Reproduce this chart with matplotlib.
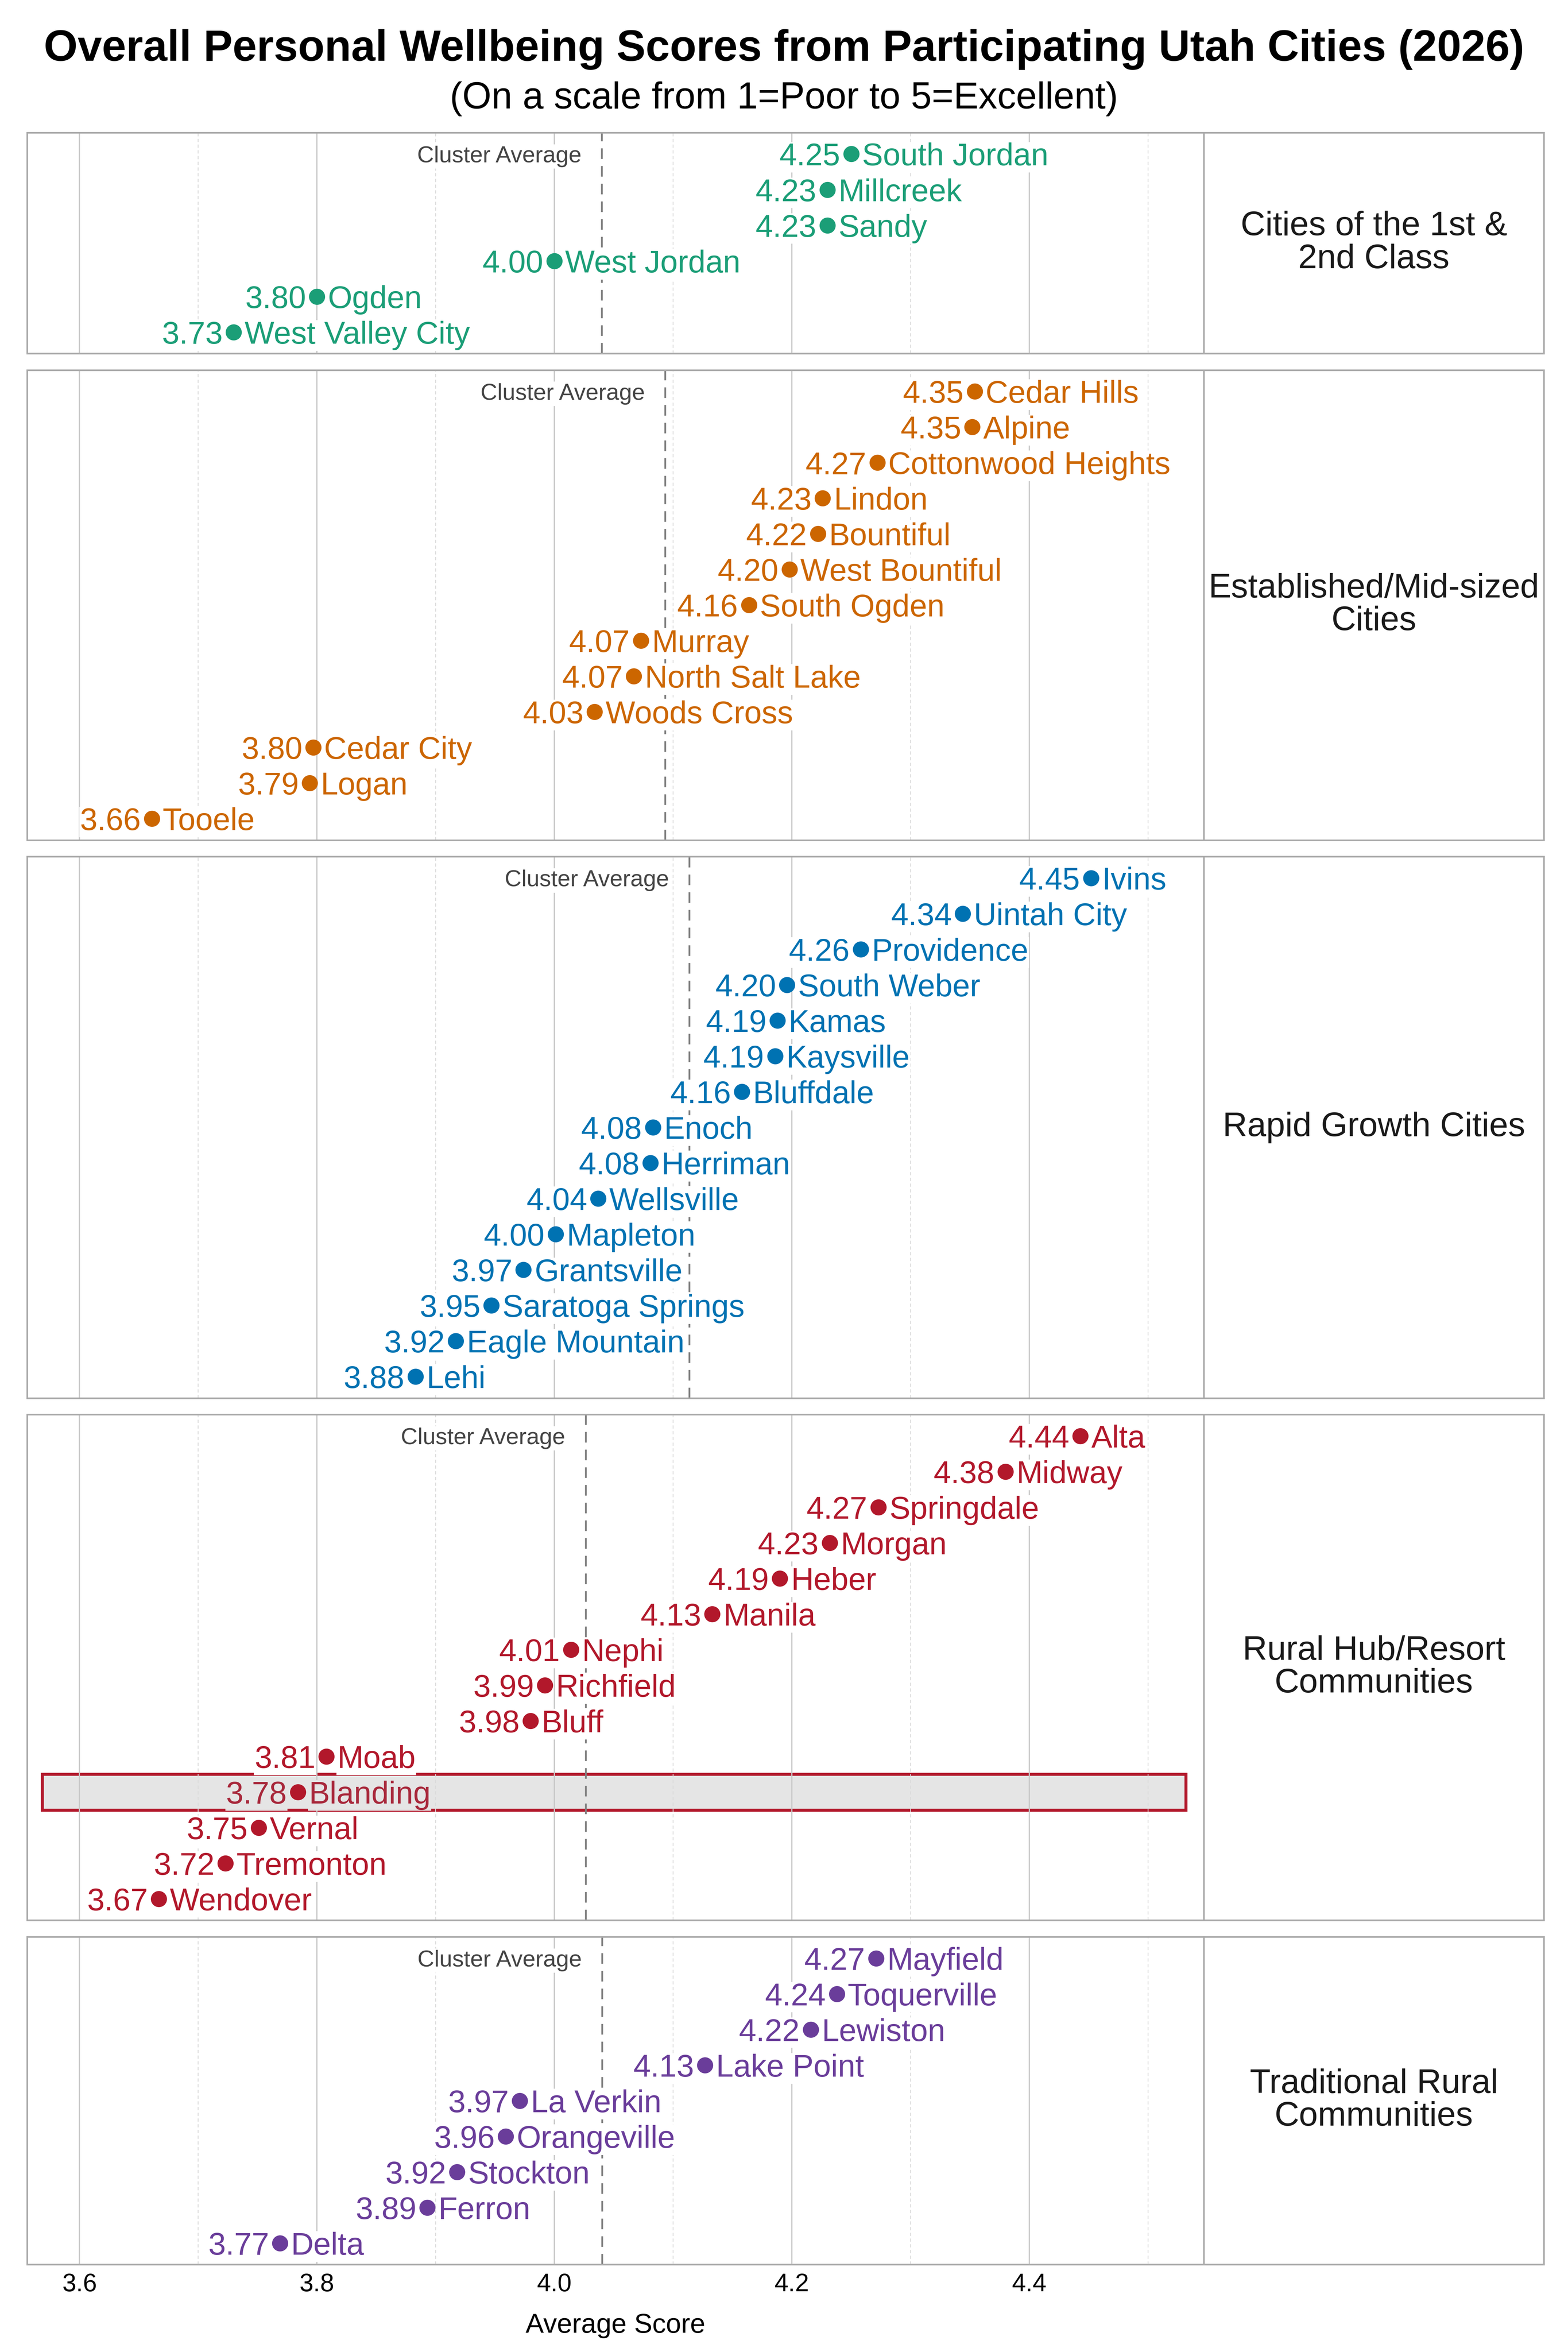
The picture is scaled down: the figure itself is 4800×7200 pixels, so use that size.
import numpy as np
import matplotlib.pyplot as plt
import matplotlib.transforms as mtransforms
from matplotlib.patches import Rectangle

plt.rcParams['font.family'] = ['Liberation Sans', 'DejaVu Sans']

# data
strip_labels = ["Cities of the 1st &\n2nd Class", "Established/Mid-sized\nCities",
                "Rapid Growth Cities", "Rural Hub/Resort\nCommunities",
                "Traditional Rural\nCommunities"]
colors = ["#1b9e77", "#cc6600", "#0072b2", "#b2182b", "#6a3d9a"]

cities_1 = ["South Jordan", "Millcreek", "Sandy", "West Jordan", "Ogden", "West Valley City"]
scores_1 = [4.25, 4.23, 4.23, 4.00, 3.80, 3.73]

cities_2 = ["Cedar Hills", "Alpine", "Cottonwood Heights", "Lindon", "Bountiful",
            "West Bountiful", "South Ogden", "Murray", "North Salt Lake", "Woods Cross",
            "Cedar City", "Logan", "Tooele"]
scores_2 = [4.354, 4.352, 4.272, 4.226, 4.222, 4.198, 4.164, 4.073, 4.067, 4.034,
            3.797, 3.794, 3.661]

cities_3 = ["Ivins", "Uintah City", "Providence", "South Weber", "Kamas", "Kaysville",
            "Bluffdale", "Enoch", "Herriman", "Wellsville", "Mapleton", "Grantsville",
            "Saratoga Springs", "Eagle Mountain", "Lehi"]
scores_3 = [4.452, 4.344, 4.258, 4.196, 4.188, 4.186, 4.158, 4.083, 4.081, 4.037,
            4.001, 3.974, 3.947, 3.917, 3.883]

cities_4 = ["Alta", "Midway", "Springdale", "Morgan", "Heber", "Manila", "Nephi",
            "Richfield", "Bluff", "Moab", "Blanding", "Vernal", "Tremonton", "Wendover"]
scores_4 = [4.443, 4.380, 4.273, 4.232, 4.190, 4.133, 4.014, 3.992, 3.980, 3.808,
            3.784, 3.751, 3.723, 3.667]

cities_5 = ["Mayfield", "Toquerville", "Lewiston", "Lake Point", "La Verkin",
            "Orangeville", "Stockton", "Ferron", "Delta"]
scores_5 = [4.271, 4.238, 4.216, 4.127, 3.971, 3.959, 3.918, 3.893, 3.769]

highlight_city = "Blanding"

city_lists = [cities_1, cities_2, cities_3, cities_4, cities_5]
score_lists = [scores_1, scores_2, scores_3, scores_4, scores_5]

major_ticks = [3.6, 3.8, 4.0, 4.2, 4.4]
minor_ticks = [3.7, 3.9, 4.1, 4.3, 4.5]

fig = plt.figure(figsize=(16, 24), dpi=300)
gs = fig.add_gridspec(5, 2, width_ratios=[782, 226],
                      height_ratios=[len(c) + 0.2 for c in city_lists],
                      left=0.0173, right=0.9846, top=0.9436, bottom=0.0372,
                      wspace=0, hspace=0.04)

label_size = 23
for k in range(5):
    cities, scores, color = city_lists[k], score_lists[k], colors[k]
    n = len(cities)
    ax = fig.add_subplot(gs[k, 0])
    sax = fig.add_subplot(gs[k, 1])

    ax.set_xlim(3.556, 4.547)
    ax.set_ylim(n - 0.4, -0.6)
    ax.set_xticks(major_ticks)
    ax.set_xticks(minor_ticks, minor=True)
    ax.set_yticks([])
    ax.grid(True, which='major', axis='x', color='#c8c8c8', lw=0.9)
    ax.grid(True, which='minor', axis='x', color='#dadada', lw=0.6, ls=(0, (4, 3)))
    ax.set_axisbelow(True)
    ax.tick_params(axis='x', which='both', length=0, labelsize=18.4, pad=6)
    if k < 4:
        ax.tick_params(labelbottom=False)
    for sp in list(ax.spines.values()) + list(sax.spines.values()):
        sp.set_color('#aaaaaa')
        sp.set_linewidth(1.2)

    avg = np.mean(scores)
    ax.axvline(avg, color='#808080', lw=1.3, ls=(0, (6, 4)), zorder=1.5)
    ax.annotate("Cluster Average", xy=(avg, 0), xytext=(-15, 0), textcoords='offset points',
                ha='right', va='center_baseline', fontsize=17, color='#444444', zorder=2,
                bbox=dict(fc='white', ec='none', pad=1))

    ypos = np.arange(n)
    ax.scatter(scores, ypos, s=140, color=color, linewidths=0, zorder=4)
    for i, (c, v) in enumerate(zip(cities, scores)):
        bg = 'white'
        tc = color
        if c == highlight_city:
            trans = mtransforms.blended_transform_factory(ax.transAxes, ax.transData)
            ax.add_patch(Rectangle((0.0128, i - 0.5), 0.972, 1.0, transform=trans,
                                   fc='#e5e5e5', ec=color, lw=2.2, zorder=0.2))
            bg = '#e5e5e5'
            tc = '#a8283b'
        ax.annotate(f"{v:.2f}", xy=(v, i), xytext=(-8, 0), textcoords='offset points',
                    ha='right', va='center_baseline', fontsize=label_size, color=tc, zorder=3,
                    bbox=dict(fc=bg, ec='none', pad=0.5))
        ax.annotate(c, xy=(v, i), xytext=(8, 0), textcoords='offset points',
                    ha='left', va='center_baseline', fontsize=label_size, color=tc, zorder=3,
                    bbox=dict(fc=bg, ec='none', pad=0.5))

    sax.set_xticks([])
    sax.set_yticks([])
    sax.text(0.5, 0.5, strip_labels[k], transform=sax.transAxes, ha='center', va='center',
             fontsize=25, color='#1a1a1a', linespacing=1.05)

    if k == 4:
        ax.set_xlabel("Average Score", fontsize=20, labelpad=12)

fig.text(0.5, 0.979, "Overall Personal Wellbeing Scores from Participating Utah Cities (2026)",
         ha='center', va='center', fontsize=32, fontweight='bold')
fig.text(0.5, 0.958, "(On a scale from 1=Poor to 5=Excellent)",
         ha='center', va='center', fontsize=27.5)

fig.savefig("out.png", dpi=300)
